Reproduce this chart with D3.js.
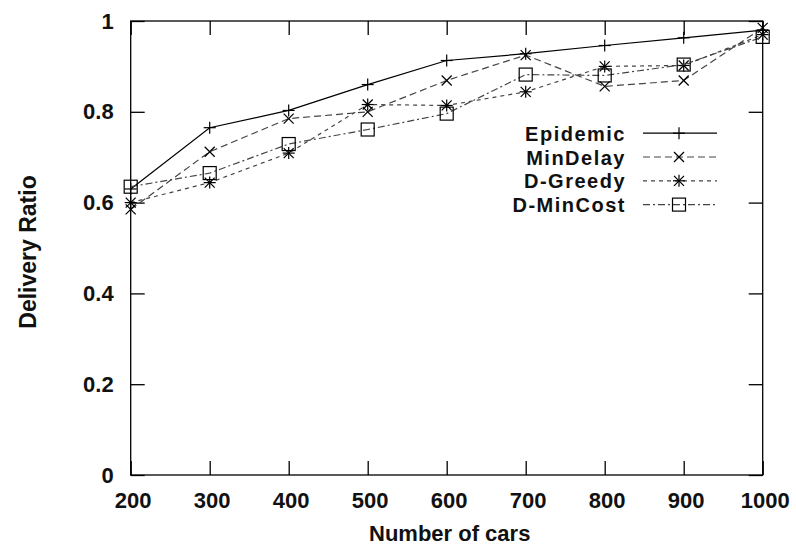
<!DOCTYPE html>
<html>
<head>
  <meta charset="utf-8">
  <title>Delivery Ratio</title>
  <style>
    body { margin: 0; background: white; }
    svg text {
      font-family: "Liberation Sans", Arial, sans-serif;
      font-weight: bold;
      fill: #111;
    }
    .frame { fill: none; stroke: black; stroke-width: 1.3; }
    .tick-mark { stroke: black; stroke-width: 1.3; }
    .series { fill: none; }
  </style>
  <script src="https://d3js.org/d3.v7.min.js"></script>
</head>
<body>
  <div id="chart"></div>
  <script>
    // values
    const cars = [200, 300, 400, 500, 600, 700, 800, 900, 1000];
    const epidemic = [0.63, 0.765, 0.803, 0.86, 0.913, 0.928, 0.946, 0.963, 0.98];
    const minDelay = [0.585, 0.712, 0.785, 0.80, 0.869, 0.925, 0.856, 0.869, 0.985];
    const dGreedy = [0.60, 0.644, 0.709, 0.816, 0.814, 0.844, 0.90, 0.902, 0.97];
    const dMinCost = [0.635, 0.665, 0.729, 0.761, 0.796, 0.882, 0.88, 0.904, 0.965];
    const seriesNames = ["Epidemic", "MinDelay", "D-Greedy", "D-MinCost"];
    const xTicks = [200, 300, 400, 500, 600, 700, 800, 900, 1000];
    const yTicks = [0, 0.2, 0.4, 0.6, 0.8, 1];

    const width = 796;
    const height = 550;
    const margin = { top: 21, right: 33.3, bottom: 75, left: 130.7 };
    const w = width - margin.left - margin.right;
    const h = height - margin.top - margin.bottom;

    const svg = d3.select("#chart")
      .append("svg")
      .attr("width", width)
      .attr("height", height);

    const g = svg.append("g")
      .attr("transform", `translate(${margin.left},${margin.top})`);

    const x = d3.scaleLinear().domain([200, 1000]).range([0, w]);
    const y = d3.scaleLinear().domain([0, 1]).range([h, 0]);

    const tickLen = 14;

    // ticks on all four sides, pointing inwards (gnuplot style)
    const bottomAxis = g.append("g")
      .attr("transform", `translate(0,${h})`)
      .call(d3.axisBottom(x).tickValues(xTicks).tickSize(-tickLen).tickPadding(17).tickFormat(d3.format("d")));
    const topAxis = g.append("g")
      .call(d3.axisTop(x).tickValues(xTicks).tickSize(-tickLen).tickFormat(""));
    const leftAxis = g.append("g")
      .call(d3.axisLeft(y).tickValues(yTicks).tickSize(-tickLen).tickPadding(17).tickFormat(d => d === 0 || d === 1 ? d : d3.format(".1f")(d)));
    const rightAxis = g.append("g")
      .attr("transform", `translate(${w},0)`)
      .call(d3.axisRight(y).tickValues(yTicks).tickSize(-tickLen).tickFormat(""));

    [bottomAxis, topAxis, leftAxis, rightAxis].forEach(a => {
      a.select(".domain").remove();
      a.selectAll(".tick line").attr("stroke", "black").attr("stroke-width", 1.3);
    });
    bottomAxis.selectAll("text")
      .attr("font-size", 22)
      .attr("dx", 2)
      .attr("fill", "#111");
    leftAxis.selectAll("text")
      .attr("font-size", 22)
      .attr("fill", "#111");

    g.append("rect")
      .attr("class", "frame")
      .attr("width", w)
      .attr("height", h);

    // axis titles
    svg.append("text")
      .attr("x", margin.left + w / 2 + 3)
      .attr("y", 541)
      .attr("text-anchor", "middle")
      .attr("font-size", 22)
      .text("Number of cars");

    svg.append("text")
      .attr("transform", "translate(36,252) rotate(-90)")
      .attr("text-anchor", "middle")
      .attr("font-size", 23)
      .text("Delivery Ratio");

    const series = [
      { name: seriesNames[0], values: epidemic, dash: null, color: "black", marker: "plus" },
      { name: seriesNames[1], values: minDelay, dash: "7,4", color: "#444", marker: "cross" },
      { name: seriesNames[2], values: dGreedy, dash: "4,4", color: "#444", marker: "star" },
      { name: seriesNames[3], values: dMinCost, dash: "7,3,2,3", color: "#444", marker: "square" }
    ];

    const line = d3.line()
      .x((d, i) => x(cars[i]))
      .y(d => y(d));

    function drawMarker(sel, type, cx, cy) {
      const s = 6;
      const m = sel.append("g").attr("transform", `translate(${cx},${cy})`)
        .attr("stroke", "black").attr("stroke-width", 1.2).attr("fill", "none");
      if (type === "plus" || type === "star") {
        m.append("line").attr("x1", -s).attr("x2", s).attr("y1", 0).attr("y2", 0);
        m.append("line").attr("x1", 0).attr("x2", 0).attr("y1", -s).attr("y2", s);
      }
      if (type === "cross" || type === "star") {
        const c = 5;
        m.append("line").attr("x1", -c).attr("x2", c).attr("y1", -c).attr("y2", c);
        m.append("line").attr("x1", -c).attr("x2", c).attr("y1", c).attr("y2", -c);
      }
      if (type === "square") {
        m.append("rect").attr("x", -6.5).attr("y", -6.5).attr("width", 13).attr("height", 13);
      }
    }

    series.forEach(s => {
      g.append("path")
        .datum(s.values)
        .attr("class", "series")
        .attr("d", line)
        .attr("stroke", s.color)
        .attr("stroke-width", 1.2)
        .attr("stroke-dasharray", s.dash);
      s.values.forEach((v, i) => drawMarker(g, s.marker, x(cars[i]), y(v)));
    });

    // legend
    const legend = svg.append("g");
    series.forEach((s, i) => {
      const by = 140.7 + i * 23.8;
      legend.append("text")
        .attr("x", 626)
        .attr("y", by)
        .attr("text-anchor", "end")
        .attr("font-size", 20)
        .attr("letter-spacing", "1.5px")
        .text(s.name);
      legend.append("line")
        .attr("x1", 643).attr("x2", 717)
        .attr("y1", by - 7.5).attr("y2", by - 7.5)
        .attr("stroke", s.color)
        .attr("stroke-width", 1.2)
        .attr("stroke-dasharray", s.dash);
      drawMarker(legend, s.marker, 679, by - 7.5);
    });
  </script>
</body>
</html>
